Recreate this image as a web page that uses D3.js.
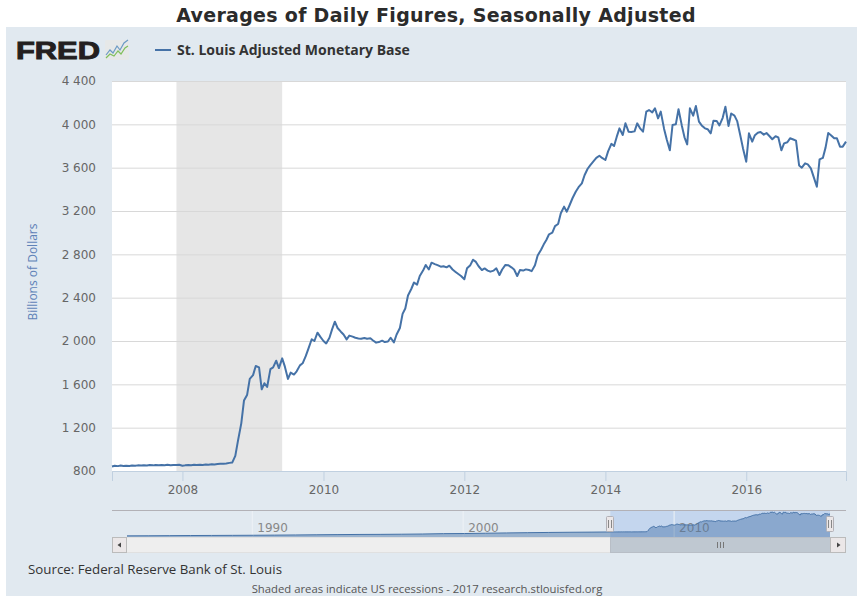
<!DOCTYPE html>
<html>
<head>
<meta charset="utf-8">
<script src="https://cdn.jsdelivr.net/npm/d3@7"></script>
<style>
body { margin: 0; background: #fff; }
</style>
</head>
<body>
<div id="chart"></div>
<script>
var titleText = "Averages of Daily Figures, Seasonally Adjusted";
var seriesName = "St. Louis Adjusted Monetary Base";
var yTitle = "Billions of Dollars";
var sourceText = "Source: Federal Reserve Bank of St. Louis";
var noteText = "Shaded areas indicate US recessions - 2017 research.stlouisfed.org";

var yTicks = [800, 1200, 1600, 2000, 2400, 2800, 3200, 3600, 4000, 4400];
var xTicks = [2008, 2010, 2012, 2014, 2016];
var navTicks = [1990, 2000, 2010];
var recession = [new Date(2007, 11, 1), new Date(2009, 5, 1)];

// semi-monthly readings (1st and 15th of each month), billions of dollars
var v2007 = [842, 848, 845, 850, 847, 849, 846, 850, 848, 852, 850, 853, 851, 855, 852, 856, 853, 856, 854, 857, 853, 856, 855, 857];
var v2008 = [848, 852, 855, 853, 857, 855, 858, 856, 860, 858, 862, 860, 864, 866, 868, 870, 875, 878, 940, 1080, 1240, 1450, 1501, 1650];
var v2009 = [1685, 1769, 1757, 1554, 1610, 1575, 1740, 1757, 1818, 1750, 1840, 1763, 1650, 1708, 1690, 1720, 1775, 1794, 1860, 1930, 2016, 2000, 2077, 2040];
var v2010 = [2000, 1978, 2030, 2110, 2178, 2120, 2086, 2060, 2015, 2050, 2040, 2030, 2024, 2020, 2028, 2021, 2025, 2005, 1985, 1990, 2003, 1990, 1995, 2030];
var v2011 = [1987, 2060, 2120, 2250, 2300, 2420, 2480, 2540, 2520, 2600, 2650, 2702, 2660, 2723, 2710, 2700, 2686, 2690, 2680, 2695, 2660, 2640, 2618, 2600];
var v2012 = [2570, 2671, 2700, 2750, 2730, 2690, 2655, 2670, 2650, 2640, 2650, 2671, 2609, 2660, 2702, 2700, 2680, 2660, 2600, 2655, 2650, 2661, 2655, 2645];
var v2013 = [2700, 2790, 2840, 2890, 2932, 2985, 3000, 3060, 3080, 3179, 3240, 3194, 3260, 3320, 3380, 3420, 3455, 3530, 3590, 3624, 3660, 3690, 3710, 3690];
var v2014 = [3671, 3750, 3820, 3800, 3886, 3963, 3902, 4010, 3932, 3930, 3935, 4009, 3960, 3932, 4117, 4132, 4110, 4148, 4055, 4117, 3960, 3860, 3760, 3994];
var v2015 = [4000, 4139, 3990, 3880, 3815, 4148, 4080, 4169, 4025, 3990, 3963, 3955, 3917, 4034, 4030, 3990, 4060, 4163, 3985, 4100, 4080, 4030, 3900, 3780];
var v2016 = [3655, 3917, 3840, 3900, 3923, 3930, 3905, 3920, 3890, 3862, 3890, 3880, 3760, 3824, 3835, 3871, 3860, 3850, 3620, 3600, 3640, 3630, 3594, 3517];
var v2017 = [3424, 3677, 3690, 3785, 3920, 3900, 3871, 3871, 3794, 3794, 3840];

// rough yearly readings (February of each year) shown only in the navigator, 1984-2006
var navEarly = [190, 205, 225, 245, 260, 275, 290, 315, 340, 370, 400, 425, 440, 465, 500, 560, 580, 630, 680, 720, 760, 790, 815];

function init() {
    var yearValues = [
        [2007, v2007], [2008, v2008], [2009, v2009], [2010, v2010], [2011, v2011], [2012, v2012],
        [2013, v2013], [2014, v2014], [2015, v2015], [2016, v2016], [2017, v2017]
    ];
    var dataset = [];
    yearValues.forEach(function (y) {
        y[1].forEach(function (v, i) {
            dataset.push({ date: new Date(y[0], Math.floor(i / 2), i % 2 ? 15 : 1), value: v });
        });
    });
    var navset = navEarly.map(function (v, i) {
        return { date: new Date(1984 + i, 1, 1), value: v };
    }).concat(dataset);

    linechart(dataset, navset);
}

function linechart(dataset, navset) {
    var w = 857;
    var h = 596;
    var lineColor = "#4572a7";

    var svg = d3.select("#chart")
        .append("svg")
        .attr("width", w)
        .attr("height", h)
        .style("display", "block");

    // panel background
    svg.append("rect")
        .attr("x", 6).attr("y", 27)
        .attr("width", w - 6).attr("height", h - 27)
        .style("fill", "#e1e9f0");

    svg.append("text")
        .attr("x", 436).attr("y", 22)
        .attr("text-anchor", "middle")
        .style("font-family", "DejaVu Sans")
        .style("font-weight", "bold")
        .style("font-size", "19px")
        .style("letter-spacing", "0.3px")
        .style("fill", "#2b2b2b")
        .text(titleText);

    // FRED logo
    var logo = svg.append("g");
    logo.append("text")
        .attr("x", 16).attr("y", 59)
        .attr("textLength", 84)
        .attr("lengthAdjust", "spacingAndGlyphs")
        .style("font-family", "Liberation Sans")
        .style("font-weight", "bold")
        .style("font-size", "23px")
        .style("fill", "#231f20")
        .style("stroke", "#231f20")
        .style("stroke-width", 0.9)
        .text("FRED");
    logo.append("rect")
        .attr("x", 105).attr("y", 40)
        .attr("width", 24).attr("height", 20)
        .attr("rx", 2)
        .style("fill", "#e6e8e8");
    logo.append("polyline")
        .attr("points", "106,55 110,50 113,53 117,46 120,50 124,43 128,40")
        .style("fill", "none").style("stroke", "#6b9ac4").style("stroke-width", 1.2);
    logo.append("polyline")
        .attr("points", "106,58 110,54 114,56 118,51 121,54 125,48 128,46")
        .style("fill", "none").style("stroke", "#7fbf5a").style("stroke-width", 1.2);

    // legend
    svg.append("line")
        .attr("x1", 155).attr("x2", 171)
        .attr("y1", 50).attr("y2", 50)
        .style("stroke", lineColor)
        .style("stroke-width", 2);
    svg.append("text")
        .attr("x", 177).attr("y", 55)
        .style("font-family", "Open Sans")
        .style("font-weight", "bold")
        .style("font-size", "14px")
        .style("fill", "#333")
        .text(seriesName);

    var xScale = d3.scaleTime()
        .domain(d3.extent(dataset, function (d) { return d.date; }))
        .range([112, 846]);

    var yScale = d3.scaleLinear()
        .domain([800, 4400])
        .range([471, 81]);

    svg.append("rect")
        .attr("x", 112).attr("y", yScale(4400))
        .attr("width", 846 - 112).attr("height", yScale(800) - yScale(4400))
        .style("fill", "#fff");

    // recession band
    svg.append("rect")
        .attr("x", xScale(recession[0]))
        .attr("y", yScale(4400))
        .attr("width", xScale(recession[1]) - xScale(recession[0]))
        .attr("height", yScale(800) - yScale(4400))
        .style("fill", "#e6e6e6");

    // grid lines
    var grid = svg.append("g")
        .attr("transform", "translate(112,0)")
        .call(d3.axisLeft(yScale).tickValues(yTicks).tickSize(-734).tickFormat(""));
    grid.select(".domain").remove();
    grid.selectAll("line").style("stroke", "#d8d8d8");

    var fmt = d3.formatLocale({ decimal: ".", thousands: " ", grouping: [3], currency: ["", ""] }).format(",");

    var yAxis = svg.append("g")
        .attr("transform", "translate(112,0)")
        .call(d3.axisLeft(yScale).tickValues(yTicks).tickSize(0).tickPadding(16).tickFormat(fmt));
    yAxis.select(".domain").remove();
    yAxis.selectAll("text")
        .style("font-family", "DejaVu Sans")
        .style("font-size", "12px")
        .style("fill", "#666");

    var xAxis = svg.append("g")
        .attr("transform", "translate(0,471)")
        .call(d3.axisBottom(xScale)
            .tickValues(xTicks.map(function (y) { return new Date(y, 0, 1); }))
            .tickSize(10).tickPadding(4)
            .tickFormat(d3.timeFormat("%Y")));
    xAxis.select(".domain").style("stroke", "#c0d0e0");
    xAxis.selectAll("line").style("stroke", "#c0d0e0");
    xAxis.selectAll("text")
        .style("font-family", "DejaVu Sans")
        .style("font-size", "12px")
        .style("fill", "#666");

    svg.append("text")
        .attr("transform", "translate(37,272) rotate(-90)")
        .attr("text-anchor", "middle")
        .style("font-family", "Open Sans")
        .style("font-size", "12px")
        .style("fill", "#5f82b8")
        .text(yTitle);

    var line = d3.line()
        .x(function (d) { return xScale(d.date); })
        .y(function (d) { return yScale(d.value); });

    svg.append("path")
        .datum(dataset)
        .attr("d", line)
        .style("fill", "none")
        .style("stroke", lineColor)
        .style("stroke-width", 2)
        .style("stroke-linejoin", "round");

    // navigator
    var navTop = 511;
    var navBottom = 537;
    var nx = d3.scaleTime()
        .domain(d3.extent(navset, function (d) { return d.date; }))
        .range([127, 830]);
    var ny = d3.scaleLinear()
        .domain([0, d3.max(navset, function (d) { return d.value; })])
        .range([navBottom, navTop + 1]);

    var selStart = nx(dataset[0].date);
    var selEnd = nx(dataset[dataset.length - 1].date);

    svg.append("rect")
        .attr("x", selStart).attr("y", navTop)
        .attr("width", selEnd - selStart).attr("height", navBottom - navTop)
        .style("fill", "#c4d6ee");

    var navAxis = svg.append("g")
        .attr("transform", "translate(0," + navTop + ")")
        .call(d3.axisBottom(nx)
            .tickValues(navTicks.map(function (y) { return new Date(y, 0, 1); }))
            .tickSize(navBottom - navTop)
            .tickFormat(d3.timeFormat("%Y")));
    navAxis.select(".domain").remove();
    navAxis.selectAll("line").style("stroke", "#eef2f6");
    navAxis.selectAll("text")
        .attr("text-anchor", "start")
        .attr("x", 5).attr("y", 12)
        .style("font-family", "DejaVu Sans")
        .style("font-size", "12px")
        .style("fill", "#888");

    var navArea = d3.area()
        .x(function (d) { return nx(d.date); })
        .y0(navBottom)
        .y1(function (d) { return ny(d.value); });
    svg.append("path")
        .datum(navset)
        .attr("d", navArea)
        .style("fill", lineColor)
        .style("opacity", 0.45);
    svg.append("path")
        .datum(navset)
        .attr("d", d3.line().x(function (d) { return nx(d.date); }).y(function (d) { return ny(d.value); }))
        .style("fill", "none")
        .style("stroke", lineColor)
        .style("stroke-width", 1);

    svg.append("line")
        .attr("x1", 112).attr("x2", 846)
        .attr("y1", navTop - 0.5).attr("y2", navTop - 0.5)
        .style("stroke", "#b2b1b6");

    // navigator handles
    [selStart, selEnd].forEach(function (hx) {
        var hg = svg.append("g").attr("transform", "translate(" + Math.round(hx) + ",0)");
        hg.append("rect")
            .attr("x", -3.5).attr("y", 516.5)
            .attr("width", 7).attr("height", 15)
            .attr("rx", 1)
            .style("fill", "#ebe7e8")
            .style("stroke", "#b2b1b6");
        [-1.5, 1.5].forEach(function (dx) {
            hg.append("line")
                .attr("x1", dx).attr("x2", dx)
                .attr("y1", 520).attr("y2", 528)
                .style("stroke", "#888");
        });
    });

    // scrollbar
    var sbY = 537.5;
    var sbH = 15;
    svg.append("rect")
        .attr("x", 112.5).attr("y", sbY)
        .attr("width", 733).attr("height", sbH)
        .style("fill", "#eeeeee")
        .style("stroke", "#e0e0e0");
    svg.append("rect")
        .attr("x", Math.round(selStart) + 0.5).attr("y", sbY)
        .attr("width", Math.round(selEnd - selStart)).attr("height", sbH)
        .style("fill", "#bfc8d1")
        .style("stroke", "#b8bec6");
    var mid = Math.round((selStart + selEnd) / 2);
    [-3, 0, 3].forEach(function (dx) {
        svg.append("line")
            .attr("x1", mid + dx + 0.5).attr("x2", mid + dx + 0.5)
            .attr("y1", 542).attr("y2", 548)
            .style("stroke", "#777");
    });
    svg.append("rect")
        .attr("x", 112.5).attr("y", sbY)
        .attr("width", 14).attr("height", sbH)
        .style("fill", "#ebe7e8")
        .style("stroke", "#bbb");
    svg.append("path")
        .attr("d", "M117.5,545 L121,542.5 L121,547.5 Z")
        .style("fill", "#444");
    svg.append("rect")
        .attr("x", 830.5).attr("y", sbY)
        .attr("width", 15).attr("height", sbH)
        .style("fill", "#ebe7e8")
        .style("stroke", "#bbb");
    svg.append("path")
        .attr("d", "M840.5,545 L837,542.5 L837,547.5 Z")
        .style("fill", "#444");

    // footer
    svg.append("text")
        .attr("x", 28).attr("y", 574)
        .style("font-family", "Open Sans")
        .style("font-size", "13.3px")
        .style("fill", "#333")
        .text(sourceText);
    svg.append("text")
        .attr("x", 427).attr("y", 593)
        .attr("text-anchor", "middle")
        .style("font-family", "Open Sans")
        .style("font-size", "11.3px")
        .style("fill", "#555")
        .text(noteText);
}

init();
</script>
</body>
</html>
